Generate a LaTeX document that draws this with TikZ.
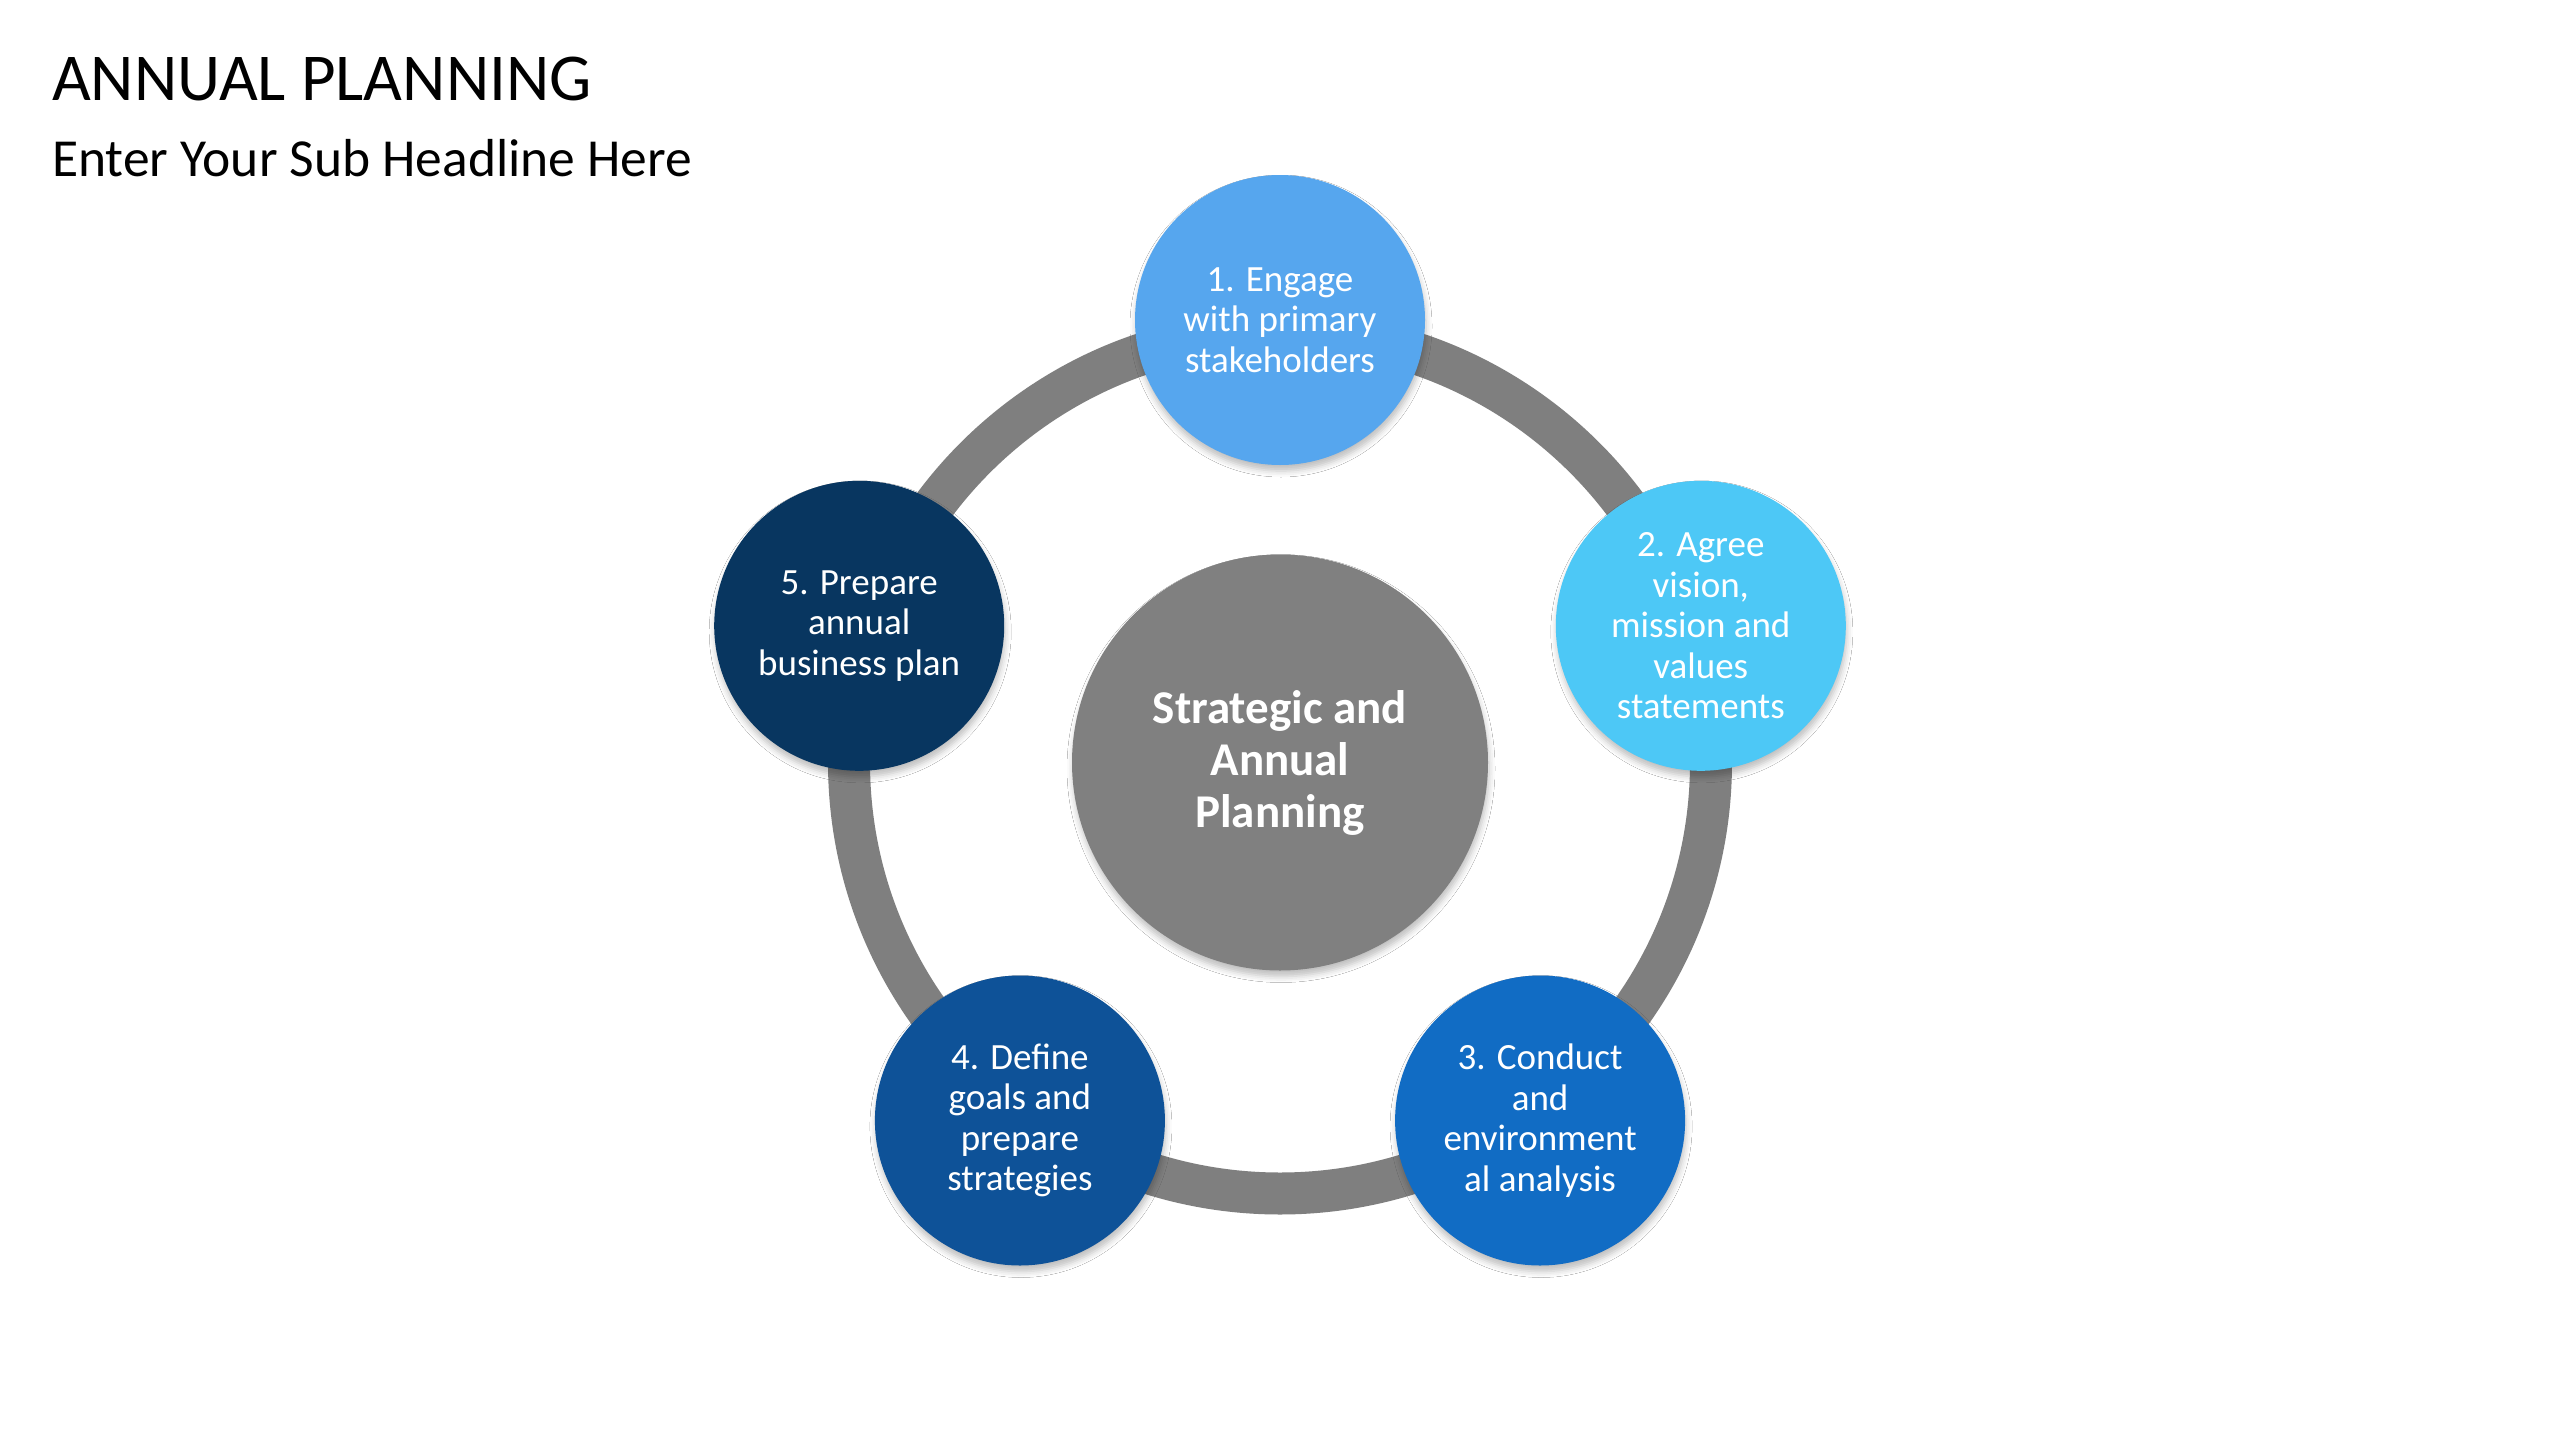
\documentclass[tikz,border=0pt]{standalone}
\usepackage{fontspec}
\setmainfont{Carlito}
\usetikzlibrary{shadows.blur}
\definecolor{cOne}{RGB}{86,166,238}
\definecolor{cTwo}{RGB}{77,200,246}
\definecolor{cThree}{RGB}{17,108,196}
\definecolor{cFour}{RGB}{14,82,152}
\definecolor{cFive}{RGB}{8,54,96}
\definecolor{ringgrey}{RGB}{127,127,127}
\definecolor{hubgrey}{RGB}{128,128,128}
\tikzset{
  softshadow/.style={blur shadow={shadow xshift=1pt, shadow yshift=-6pt, shadow blur radius=6pt, shadow opacity=25}},
  stage/.style={circle, minimum size=290pt, inner sep=0pt, text=white, align=center,
    font=\fontsize{37}{40.5}\selectfont, softshadow},
  hub/.style={circle, fill=hubgrey, minimum size=416pt, inner sep=0pt, text=white, align=center,
    font=\fontsize{47}{52}\selectfont\bfseries, softshadow},
  ring/.style={draw=ringgrey, line width=42pt},
}
\begin{document}
\begin{tikzpicture}[x=1pt,y=-1pt]
\useasboundingbox (0,0) rectangle (2560,1440);
\fill[white] (0,0) rectangle (2560,1440);
\node[anchor=base west, inner sep=0pt, font=\fontsize{67}{80}\selectfont] (title) at (52,100) {ANNUAL PLANNING};
\node[anchor=base west, inner sep=0pt, font=\fontsize{53.5}{64}\selectfont] (subtitle) at (52,176) {Enter Your Sub Headline Here};
\coordinate (ctr) at (1280,762.5);
\draw[ring] (ctr) circle[radius=431];
\node[hub] (hub) at (ctr) {Strategic and\\Annual\\Planning};
\node[stage, fill=cOne] (s1) at (1280,320) {1. Engage\\with primary\\stakeholders};
\node[stage, fill=cTwo] (s2) at (1700.8,625.8) {2. Agree\\vision,\\mission and\\values\\statements};
\node[stage, fill=cThree] (s3) at (1540.1,1120.5) {3. Conduct\\and\\environment\\al analysis};
\node[stage, fill=cFour] (s4) at (1019.9,1120.5) {4. Define\\goals and\\prepare\\strategies};
\node[stage, fill=cFive] (s5) at (859.2,625.8) {5. Prepare\\annual\\business plan};
\end{tikzpicture}
\end{document}
